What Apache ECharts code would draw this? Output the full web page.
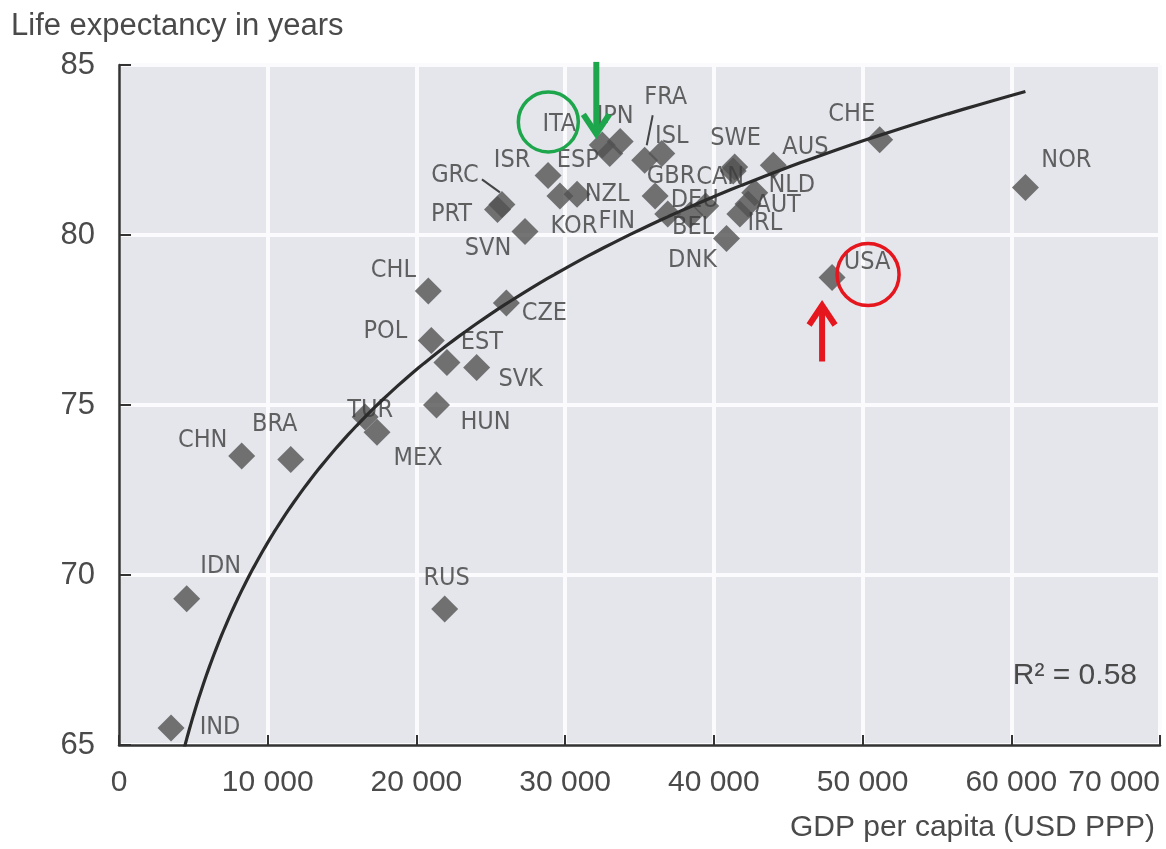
<!DOCTYPE html>
<html>
<head>
<meta charset="utf-8">
<script src="https://cdn.jsdelivr.net/npm/echarts@6/dist/echarts.min.js"></script>
<style>
  html, body { margin: 0; padding: 0; background: #ffffff; }
  #chart { width: 1166px; height: 849px; }
</style>
</head>
<body>
<div id="chart"></div>
<script>
// Country codes, GDP per capita (USD PPP) and life expectancy (years)
const countries = ['IND','IDN','CHN','BRA','TUR','MEX','RUS','CHL','POL','HUN','EST','SVK','CZE','SVN','PRT','GRC','ISR','KOR','NZL','ITA','ESP','JPN','FRA','ISL','FIN','GBR','BEL','DEU','CAN','SWE','DNK','IRL','AUT','NLD','AUS','USA','CHE','NOR'];
const gdpPerCapita = [3500, 4550, 8250, 11550, 16550, 17350, 21900, 20800, 21000, 21350, 22050, 24050, 26050, 27300, 25450, 25750, 28850, 29650, 30800, 32500, 33000, 33700, 35350, 36500, 36900, 36050, 38400, 39450, 41300, 41400, 40850, 41750, 42300, 42750, 44000, 47950, 51150, 60950];
const lifeExpectancy = [65.5, 69.3, 73.5, 73.4, 74.65, 74.2, 69.0, 78.35, 76.9, 75.0, 76.25, 76.1, 78.0, 80.1, 80.75, 80.9, 81.75, 81.15, 81.2, 82.65, 82.4, 82.75, 82.2, 82.4, 80.62, 81.15, 80.59, 80.85, 81.88, 82.0, 79.9, 80.62, 80.91, 81.24, 82.05, 78.75, 82.8, 81.4];

// Readings along the logarithmic trend line (R² = 0.58)
const trendGdp = [4570, 9500, 12200, 15700, 21400, 26100, 32300, 34600, 45800, 51200, 61000];
const trendLife = [64.9, 70.6, 72.7, 74.6, 76.5, 78.0, 79.5, 79.9, 82.2, 82.8, 84.2];

// Axis ticks
const xTicks = [0, 10000, 20000, 30000, 40000, 50000, 60000, 70000];
const yTicks = [65, 70, 75, 80, 85];
const r2Label = 'R\u00B2 = 0.58';

// Where each country code sits relative to its marker (px)
const labelOffsets = {
  IND: [49, -1], IDN: [34, -32], CHN: [-39, -16], BRA: [-16, -35], TUR: [5, -6], MEX: [41, 26],
  HUN: [49, 17], POL: [-46, -9], EST: [35, -20], SVK: [44, 12], CHL: [-35, -21], CZE: [38, 10],
  RUS: [2, -31], SVN: [-37, 17], PRT: [-46, 5], GRC: [-47, -29], ISR: [-36, -15], KOR: [14, 31],
  NZL: [30, 0], ITA: [-43, -20], ESP: [-32, 7], JPN: [-5, -25], FRA: [21, -63], ISL: [10, -17],
  FIN: [-51, 8], GBR: [16, -19], BEL: [3, 13], DEU: [-11, -6], CAN: [-13, 6], SWE: [1, -29],
  DNK: [-34, 22], IRL: [25, 10], AUT: [30, 1], NLD: [37, -7], AUS: [32, -18], USA: [35, -15],
  CHE: [-28, -25], NOR: [41, -27]
};

// Least-squares fit of y = a + b * ln(x) through the trend readings
function logFit(xs, ys) {
  const n = xs.length;
  let sx = 0, sy = 0, sxx = 0, sxy = 0;
  for (let i = 0; i < n; i++) {
    const lx = Math.log(xs[i]);
    sx += lx; sy += ys[i]; sxx += lx * lx; sxy += lx * ys[i];
  }
  const b = (n * sxy - sx * sy) / (n * sxx - sx * sx);
  return { a: (sy - b * sx) / n, b };
}
const fit = logFit(trendGdp, trendLife);
// The curve spans the GDP range of the countries and is clipped at the axis
const tMin = Math.min(...gdpPerCapita), tMax = Math.max(...gdpPerCapita);
const trend = [];
for (let i = 0; i <= 160; i++) {
  const g = tMin * Math.pow(tMax / tMin, i / 160);
  trend.push([g, fit.a + fit.b * Math.log(g)]);
}

const textFont = 'Liberation Sans, Arial, sans-serif';
const labelFont = 'Liberation Sans Narrow, DejaVu Sans Condensed, Liberation Sans, sans-serif';

const points = countries.map((c, i) => ({
  name: c,
  value: [gdpPerCapita[i], lifeExpectancy[i]],
  label: { offset: labelOffsets[c] }
}));

const chart = echarts.init(document.getElementById('chart'), null, { renderer: 'canvas' });

chart.setOption({
  animation: false,
  backgroundColor: '#ffffff',
  title: [
    { text: 'Life expectancy in years', left: 6, top: 6,
      textStyle: { fontFamily: textFont, fontSize: 31, fontWeight: 'normal', color: '#4a4a4a' } },
    { text: 'GDP per capita (USD PPP)', right: 6, top: 808,
      textStyle: { fontFamily: textFont, fontSize: 30, fontWeight: 'normal', color: '#4a4a4a' } },
    { text: r2Label, right: 24, top: 656,
      textStyle: { fontFamily: textFont, fontSize: 30, fontWeight: 'normal', color: '#4a4a4a' } }
  ],
  grid: {
    left: 119, right: 6, top: 65, bottom: 104,
    show: true, backgroundColor: '#e4e6ec', borderWidth: 0
  },
  xAxis: {
    type: 'value', min: xTicks[0], max: xTicks[xTicks.length - 1], interval: xTicks[1] - xTicks[0],
    axisLine: { show: true, lineStyle: { color: '#333', width: 2.5 } },
    axisTick: { show: true, inside: true, length: 10, lineStyle: { color: '#333', width: 2 } },
    splitLine: { show: true, lineStyle: { color: '#fbfbfd', width: 4 } },
    axisLabel: {
      margin: 23, fontFamily: textFont, fontSize: 30, color: '#4a4a4a',
      alignMaxLabel: 'right',
      formatter: v => v === 0 ? '0' : (v / 1000) + ' 000'
    }
  },
  yAxis: {
    type: 'value', min: yTicks[0], max: yTicks[yTicks.length - 1], interval: yTicks[1] - yTicks[0],
    axisLine: { show: true, lineStyle: { color: '#333', width: 2.5 } },
    axisTick: { show: true, inside: true, length: 12, lineStyle: { color: '#333', width: 2 } },
    splitLine: { show: true, lineStyle: { color: '#fbfbfd', width: 4 } },
    axisLabel: { margin: 24, fontFamily: textFont, fontSize: 31, color: '#4a4a4a' }
  },
  series: [
    {
      type: 'scatter',
      symbol: 'diamond',
      symbolSize: 27,
      itemStyle: { color: '#525252' },
      label: {
        show: true, position: 'inside', formatter: '{b}',
        fontFamily: labelFont, fontSize: 25, color: '#3d3d3d'
      },
      data: points,
      z: 3
    },
    {
      type: 'line',
      data: trend,
      showSymbol: false,
      symbol: 'none',
      clip: true,
      lineStyle: { color: '#2b2b2b', width: 3.2 },
      z: 4,
      silent: true
    }
  ]
});

// Leader lines and highlight annotations placed from the data positions
function px(code) {
  const i = countries.indexOf(code);
  return chart.convertToPixel({ seriesIndex: 0 }, [gdpPerCapita[i], lifeExpectancy[i]]);
}
const grc = px('GRC'), fra = px('FRA'), ita = px('ITA'), usa = px('USA');
const green = '#1ea64c', red = '#e5161d';

function arrow(x, yFrom, yTip, head, color) {
  const dir = yTip > yFrom ? -1 : 1;
  return [
    { type: 'line', shape: { x1: x, y1: yFrom, x2: x, y2: yTip + dir * 2 },
      style: { stroke: color, lineWidth: 6 }, z: 20 },
    { type: 'polyline', shape: { points: [[x - head, yTip + dir * head * 1.5], [x, yTip], [x + head, yTip + dir * head * 1.5]] },
      style: { stroke: color, lineWidth: 6, fill: null, lineJoin: 'miter' }, z: 20 }
  ];
}

chart.setOption({
  graphic: [
    { type: 'line', shape: { x1: grc[0] - 20, y1: grc[1] - 25, x2: grc[0] - 2, y2: grc[1] - 12 },
      style: { stroke: '#444', lineWidth: 2 }, z: 10 },
    { type: 'line', shape: { x1: fra[0] + 8, y1: fra[1] - 45, x2: fra[0] + 2, y2: fra[1] - 15 },
      style: { stroke: '#444', lineWidth: 2 }, z: 10 },
    { type: 'circle', shape: { cx: ita[0] - 54, cy: ita[1] - 23, r: 30 },
      style: { stroke: green, lineWidth: 3.5, fill: null }, z: 20 },
    ...arrow(ita[0] - 6, ita[1] - 83, ita[1] - 11, 13, green),
    { type: 'circle', shape: { cx: usa[0] + 36, cy: usa[1] - 3, r: 31 },
      style: { stroke: red, lineWidth: 3.5, fill: null }, z: 20 },
    ...arrow(usa[0] - 10, usa[1] + 84, usa[1] + 28, 13, red)
  ]
});
</script>
</body>
</html>
